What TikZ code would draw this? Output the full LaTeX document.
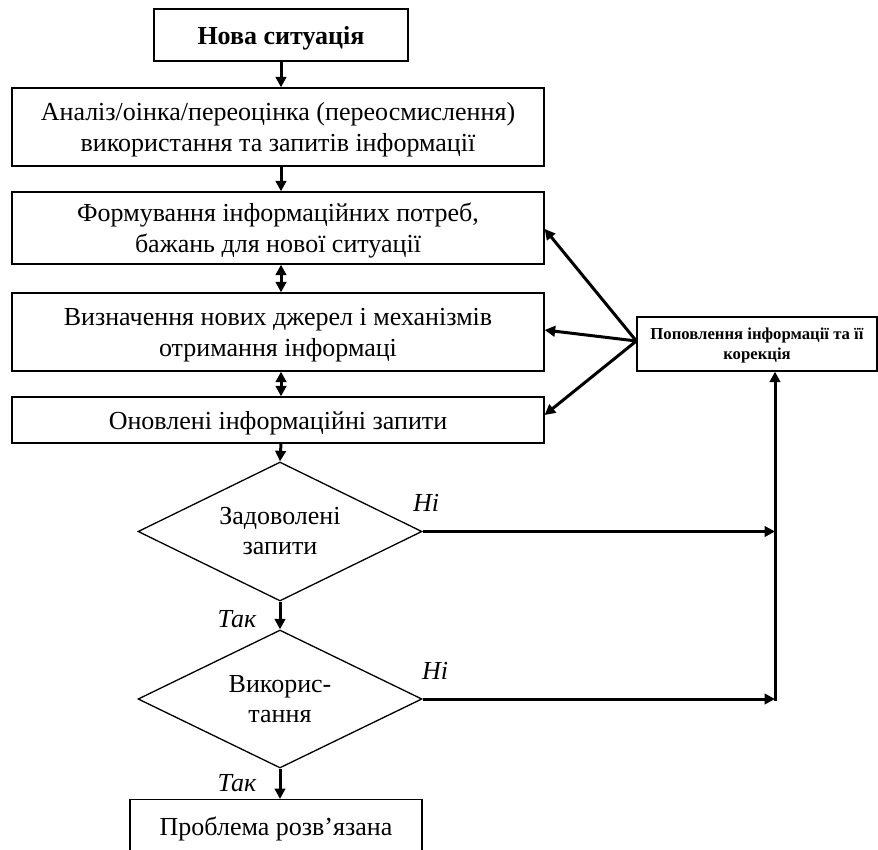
\documentclass[tikz,border=0pt]{standalone}
\usepackage{fontspec}
\setmainfont{Liberation Serif}
\usetikzlibrary{shapes.geometric,arrows.meta,calc}
\tikzset{
  box/.style={draw, line width=1.3pt, align=center, inner sep=0pt, text depth=0pt, font=\fontsize{26}{31}\selectfont},
  dia/.style={draw, diamond, line width=1.3pt, align=center, inner sep=0pt, aspect=2, font=\fontsize{26}{30}\selectfont},
  conn/.style={line width=3pt, -{Triangle[length=10.5pt,width=10.5pt]}},
  dconn/.style={line width=3pt, {Triangle[length=10.5pt,width=10.5pt]}-{Triangle[length=10.5pt,width=10.5pt]}},
  lab/.style={font=\itshape\fontsize{26}{30}\selectfont, inner sep=0pt},
}
\begin{document}
\begin{tikzpicture}[x=1pt,y=-1pt]
\useasboundingbox (0,0) rectangle (878,850);
\node[box, minimum width=254pt, minimum height=52pt, font=\bfseries\fontsize{26}{31}\selectfont] (b1) at (281,35) {Нова ситуація};
\node[box, minimum width=532pt, minimum height=78pt] (b2) at (278,127) {Аналіз/оінка/переоцінка (переосмислення)\\використання та запитів інформації};
\node[box, minimum width=532pt, minimum height=72pt] (b3) at (278,228) {Формування інформаційних потреб,\\бажань для нової ситуації};
\node[box, minimum width=532pt, minimum height=78pt] (b4) at (278,332) {Визначення нових джерел і механізмів\\отримання інформаці};
\node[box, minimum width=532pt, minimum height=46pt] (b5) at (278,420) {Оновлені інформаційні запити};
\node[dia, minimum width=284pt, minimum height=139pt] (d1) at (280,531.5) {Задоволені\\запити};
\node[dia, minimum width=284pt, minimum height=138pt] (d2) at (280,699) {Викорис-\\тання};
\node[box, minimum width=292pt, minimum height=54pt, anchor=north] (b6) at (276,799) {Проблема розв’язана};
\node[box, minimum width=240pt, minimum height=54pt, font=\bfseries\fontsize{16.7}{20}\selectfont] (r) at (757,344) {Поповлення інформації та її\\корекція};
\coordinate (j1) at (775,531.5);
\coordinate (j2) at (775,699);
\draw[conn] (b1.south) -- (b1.south |- b2.north);
\draw[conn] (b1.south |- b2.south) -- (b1.south |- b3.north);
\draw[dconn] (b1.south |- b3.south) -- (b1.south |- b4.north);
\draw[dconn] (b1.south |- b4.south) -- (b1.south |- b5.north);
\draw[conn] (b1.south |- b5.south) -- (d1.north);
\draw[conn] (d1.south) -- (d2.north);
\draw[conn] (d2.south) -- (d2.south |- b6.north);
\draw[conn] ([yshift=3pt]r.west) -- ([yshift=-1pt]b3.east);
\draw[conn] ([yshift=3pt]r.west) -- ([yshift=2pt]b4.east);
\draw[conn] ([yshift=3pt]r.west) -- ([yshift=5pt]b5.east);
\draw[conn] (d1.east) -- (j1);
\draw[conn] (d2.east) -- (j2);
\draw[conn, line cap=rect] (j2) -- (j2 |- r.south);
\node[lab] (n1) at (426,503) {Ні};
\node[lab] (n2) at (435,671) {Ні};
\node[lab] (t1) at (237,619) {Так};
\node[lab] (t2) at (237,783) {Так};
\end{tikzpicture}
\end{document}
